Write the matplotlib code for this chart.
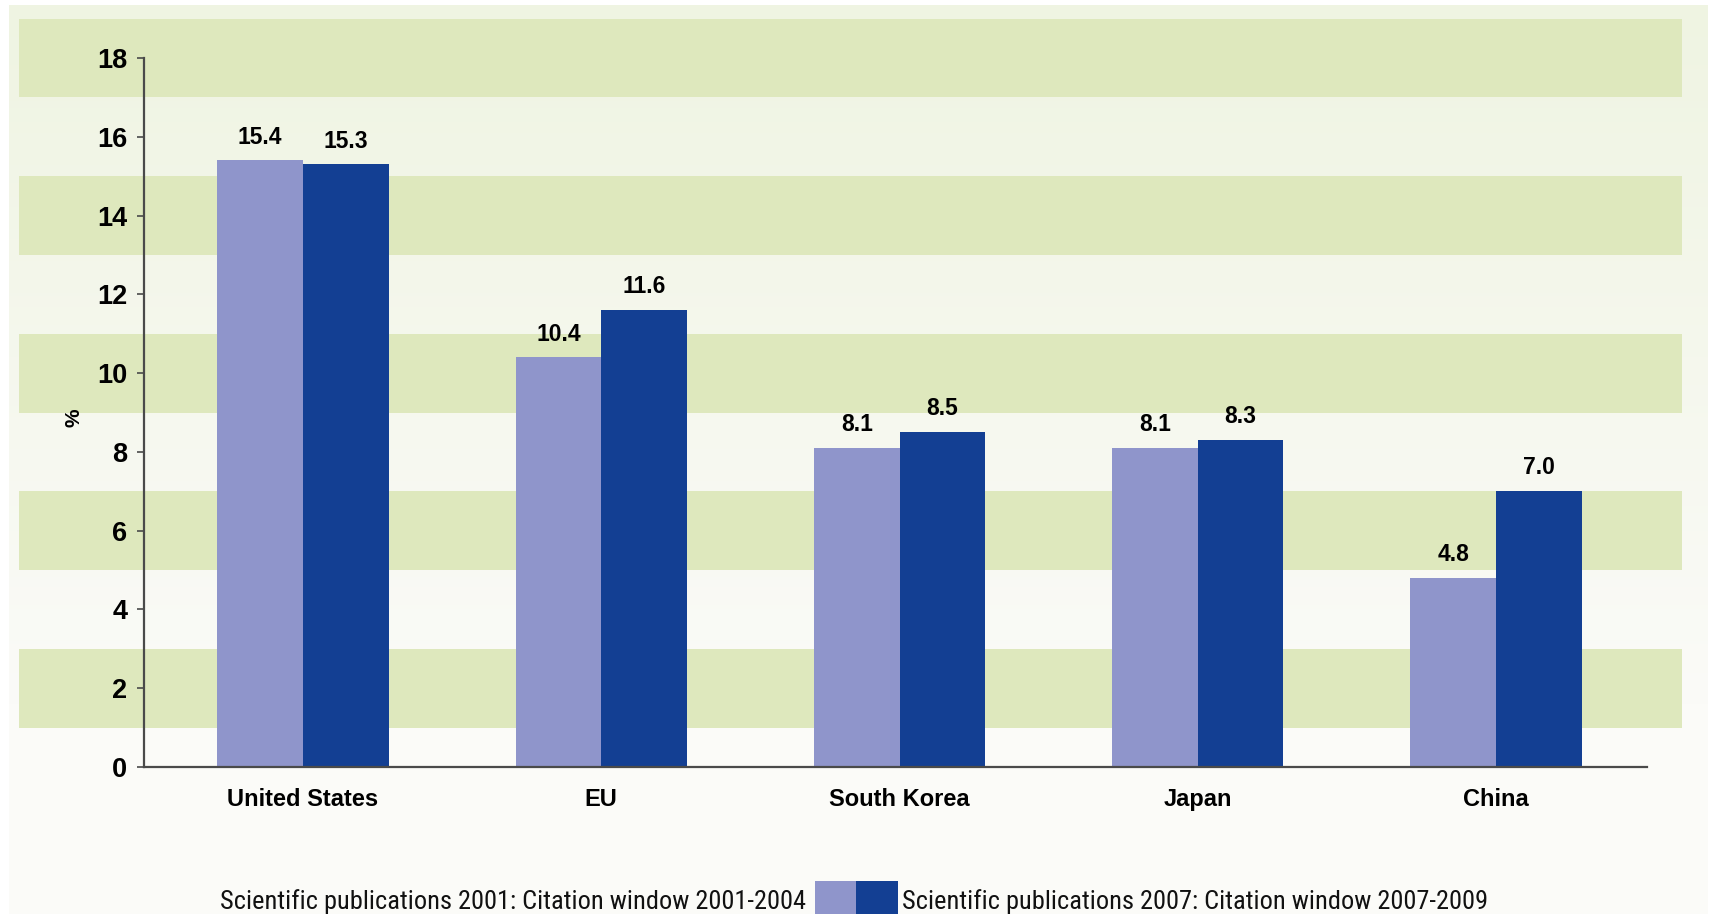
import numpy as np
import matplotlib
matplotlib.use("Agg")
import matplotlib.pyplot as plt
from matplotlib import font_manager
from matplotlib.patches import Rectangle

categories = ["United States", "EU", "South Korea", "Japan", "China"]
pubs_2001 = [15.4, 10.4, 8.1, 8.1, 4.8]
pubs_2007 = [15.3, 11.6, 8.5, 8.3, 7.0]
series_labels = ["Scientific publications 2001: Citation window 2001-2004",
                 "Scientific publications 2007: Citation window 2007-2009"]
yticks = [0, 2, 4, 6, 8, 10, 12, 14, 16, 18]
band_starts = [1, 5, 9, 13, 17]

LIGHT = "#8f95cb"
DARK = "#133f93"
BAND = "#dee8bd"
AXIS = "#4a4a4a"

plt.rcParams['font.family'] = ['Liberation Sans', 'DejaVu Sans']

# find a condensed font for the legend if available
names = {f.name for f in font_manager.fontManager.ttflist}
cond = None
for cand in ["Liberation Sans Narrow", "DejaVu Sans Condensed", "Roboto Condensed",
             "Open Sans Condensed", "Noto Sans Condensed"]:
    if cand in names:
        cond = cand
        break

W, H = 1710, 914
fig = plt.figure(figsize=(W / 100, H / 100), dpi=100)
fig.patch.set_facecolor("white")

# gradient background panel
bg = fig.add_axes([9 / W, 0, 1698 / W, 909 / H], zorder=-10)
top = np.array([0xef, 0xf4, 0xe2]) / 255
bot = np.array([0xfb, 0xfb, 0xf8]) / 255
t = np.linspace(0, 1, 256)[:, None]
t = np.clip(t * 1.3, 0, 1)
grad = top[None, :] * (1 - t) + bot[None, :] * t
bg.imshow(grad[:, None, :], aspect="auto", extent=[0, 1, 0, 1])
bg.set_axis_off()

ax_left, ax_right = 144, 1647
y0, y18 = 767, 58
ax = fig.add_axes([ax_left / W, (H - y0) / H, (ax_right - ax_left) / W, (y0 - y18) / H])
ax.set_facecolor("none")

x = np.arange(len(categories))
w = 0.287
ax.set_xlim(-0.533, 4.506)
ax.set_ylim(0, 18)

axw = ax_right - ax_left
for lo in band_starts:
    ax.axhspan(lo, lo + 2, xmin=(19 - ax_left) / axw, xmax=(1682 - ax_left) / axw,
               color=BAND, clip_on=False, zorder=0, lw=0)

b1 = ax.bar(x - w / 2, pubs_2001, w, color=LIGHT, zorder=2)
b2 = ax.bar(x + w / 2, pubs_2007, w, color=DARK, zorder=2)

for xs, vals in ((x - w / 2, pubs_2001), (x + w / 2, pubs_2007)):
    for xi, v in zip(xs, vals):
        ax.annotate(f"{v:.1f}", (xi, v), xytext=(0, 8.5), textcoords="offset points",
                    ha="center", va="bottom", fontsize=16.5, fontweight="bold", color="black")

for s in ("top", "right"):
    ax.spines[s].set_visible(False)
for s in ("left", "bottom"):
    ax.spines[s].set_color(AXIS)
    ax.spines[s].set_linewidth(1.6)
    ax.spines[s].set_zorder(3)

ax.set_yticks(yticks)
ax.set_yticklabels([str(v) for v in yticks], fontsize=19.5, fontweight="bold")
ax.tick_params(axis="y", length=5, width=1.2, color=AXIS, pad=7)
ax.set_xticks(x)
ax.set_xticklabels(categories, fontsize=17, fontweight="bold")
ax.tick_params(axis="x", length=0, pad=15)

ax.set_ylabel("%", fontsize=15, fontweight="bold")
ax.yaxis.set_label_coords((83 - ax_left) / axw, (y0 - 418) / (y0 - y18))

# legend (manual, centered row at bottom)
leg_y = 1 - 902 / H
lfont = dict(fontsize=19 if cond else 16.5, color="#111111", va="center")
if cond:
    lfont["family"] = [cond, "DejaVu Sans"]
fig.text(806 / W, leg_y, series_labels[0], ha="right", **lfont)
fig.text(902 / W, leg_y, series_labels[1], ha="left", **lfont)
fig.patches.append(Rectangle((815 / W, 0), 41 / W, (H - 881) / H, transform=fig.transFigure,
                             facecolor=LIGHT, edgecolor="none", figure=fig))
fig.patches.append(Rectangle((856 / W, 0), 42 / W, (H - 881) / H, transform=fig.transFigure,
                             facecolor=DARK, edgecolor="none", figure=fig))

fig.savefig("out.png", dpi=100)
